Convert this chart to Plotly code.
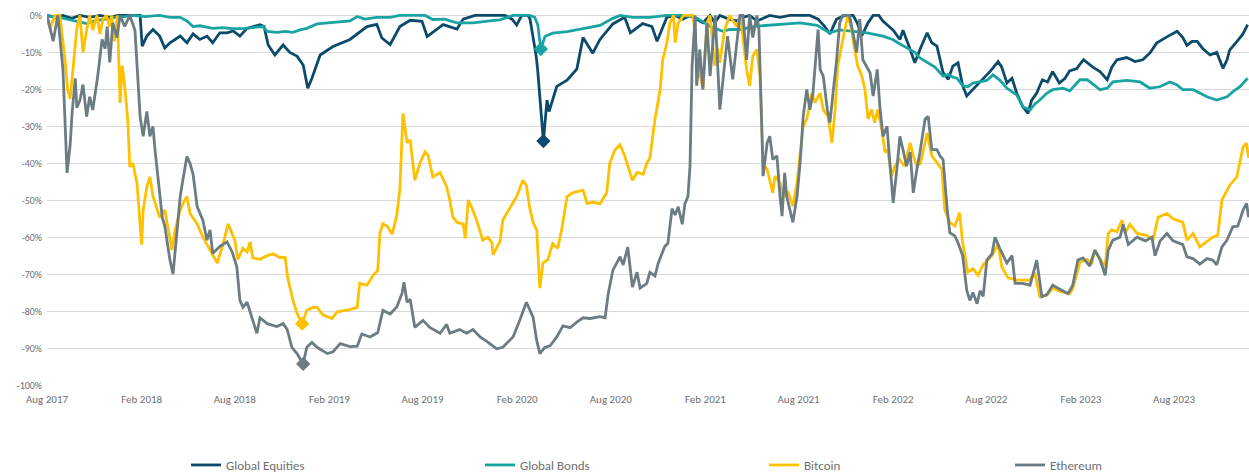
import plotly.graph_objects as go

# ---------------- data (drawdown from running peak, %) ----------------
EQUITIES = [
    ("2017-08-01", 0), ("2017-08-17", -0.5), ("2017-09-01", 0), ("2017-09-18", -0.8), ("2017-10-04", 0),
    ("2017-10-23", -0.5), ("2017-11-12", 0), ("2017-12-01", -0.5), ("2017-12-17", 0), ("2018-01-09", 0),
    ("2018-01-29", 0), ("2018-02-02", -8.3), ("2018-02-11", -5.6), ("2018-02-23", -3.8), ("2018-03-08", -5.6),
    ("2018-03-18", -8.8), ("2018-03-28", -7.4), ("2018-04-07", -6.5), ("2018-04-17", -5.6), ("2018-04-30", -7.4),
    ("2018-05-12", -5.0), ("2018-05-25", -6.5), ("2018-06-08", -5.6), ("2018-06-19", -7.4), ("2018-07-03", -4.7),
    ("2018-07-17", -4.7), ("2018-07-29", -4.2), ("2018-08-11", -5.6), ("2018-08-25", -3.5), ("2018-09-19", -2.5),
    ("2018-09-27", -3.0), ("2018-10-05", -8.0), ("2018-10-18", -10.7), ("2018-11-03", -8.0), ("2018-11-16", -10.0),
    ("2018-11-30", -11.0), ("2018-12-12", -13.4), ("2018-12-21", -19.7), ("2018-12-29", -17.0), ("2019-01-14", -10.7),
    ("2019-02-08", -8.4), ("2019-03-13", -6.5), ("2019-04-15", -3.0), ("2019-05-04", -2.4), ("2019-05-14", -6.1),
    ("2019-05-30", -7.9), ("2019-06-18", -3.0), ("2019-07-08", -1.3), ("2019-07-31", -1.6), ("2019-08-10", -5.7),
    ("2019-08-21", -4.6), ("2019-09-10", -2.5), ("2019-10-07", -3.7), ("2019-10-19", -1.0), ("2019-11-11", 0),
    ("2019-12-10", 0), ("2020-01-08", 0), ("2020-01-22", -1.0), ("2020-01-31", -2.6), ("2020-02-10", 0),
    ("2020-02-22", 0), ("2020-02-26", -1.0), ("2020-03-03", -6.0), ("2020-03-09", -11.0), ("2020-03-12", -15.0),
    ("2020-03-18", -25.0), ("2020-03-23", -34.0), ("2020-03-30", -22.9), ("2020-04-03", -26.0), ("2020-04-18", -19.2),
    ("2020-05-08", -17.5), ("2020-05-27", -14.5), ("2020-06-08", -6.0), ("2020-06-27", -10.2), ("2020-07-11", -6.5),
    ("2020-08-05", -2.3), ("2020-08-15", -1.5), ("2020-08-28", -0.5), ("2020-09-08", -4.7), ("2020-10-02", -2.2),
    ("2020-10-20", -3.0), ("2020-10-30", -7.0), ("2020-11-18", -0.5), ("2020-12-04", 0), ("2020-12-19", -1.0),
    ("2021-01-02", 0), ("2021-01-27", -2.0), ("2021-02-10", 0), ("2021-02-19", -2.0), ("2021-03-01", 0),
    ("2021-03-15", -0.8), ("2021-04-03", -1.5), ("2021-04-15", -0.5), ("2021-04-28", 0), ("2021-05-12", -1.5),
    ("2021-05-27", -0.5), ("2021-06-06", 0), ("2021-06-26", -0.5), ("2021-07-15", 0), ("2021-08-04", 0),
    ("2021-08-23", 0), ("2021-09-08", -1.0), ("2021-09-21", -3.0), ("2021-10-01", -5.0), ("2021-10-14", -1.0),
    ("2021-10-30", 0), ("2021-11-15", 0), ("2021-11-23", -2.0), ("2021-12-02", -5.5), ("2021-12-14", -2.0),
    ("2021-12-24", 0), ("2022-01-04", 0), ("2022-01-12", -1.5), ("2022-01-20", -2.5), ("2022-02-01", -4.0),
    ("2022-02-14", -6.5), ("2022-02-20", -4.0), ("2022-03-06", -9.2), ("2022-03-15", -12.8), ("2022-03-25", -9.2),
    ("2022-04-08", -4.7), ("2022-04-17", -7.4), ("2022-04-27", -8.3), ("2022-05-09", -15.5), ("2022-05-19", -17.3),
    ("2022-05-28", -13.7), ("2022-06-07", -12.8), ("2022-06-16", -19.0), ("2022-06-24", -21.8), ("2022-07-06", -20.0),
    ("2022-07-20", -18.0), ("2022-08-08", -15.2), ("2022-08-24", -12.5), ("2022-08-31", -14.0), ("2022-09-10", -18.3),
    ("2022-09-20", -17.0), ("2022-09-29", -21.0), ("2022-10-11", -24.7), ("2022-10-21", -26.5), ("2022-10-28", -23.0),
    ("2022-11-07", -21.0), ("2022-11-18", -17.4), ("2022-11-28", -18.0), ("2022-12-08", -15.2), ("2022-12-21", -18.3),
    ("2023-01-01", -17.0), ("2023-01-10", -15.0), ("2023-01-24", -14.4), ("2023-01-31", -13.0), ("2023-02-06", -12.0),
    ("2023-02-24", -14.0), ("2023-03-10", -15.2), ("2023-03-24", -17.4), ("2023-04-02", -14.0), ("2023-04-12", -12.0),
    ("2023-05-01", -11.4), ("2023-05-17", -12.5), ("2023-06-01", -12.0), ("2023-06-15", -10.2), ("2023-06-28", -7.5),
    ("2023-07-18", -5.8), ("2023-07-28", -5.0), ("2023-08-07", -4.3), ("2023-08-18", -6.0), ("2023-08-26", -8.1),
    ("2023-09-05", -7.0), ("2023-09-15", -7.0), ("2023-09-26", -9.0), ("2023-10-10", -10.7), ("2023-10-23", -10.0),
    ("2023-11-04", -14.3), ("2023-11-12", -12.0), ("2023-11-17", -9.4), ("2023-12-01", -7.1), ("2023-12-13", -5.0),
    ("2023-12-22", -2.5),
]

BONDS = [
    ("2017-08-01", 0), ("2017-08-17", -0.5), ("2017-09-01", -0.7), ("2017-09-15", -1.2), ("2017-09-28", -1.6),
    ("2017-10-17", -2.2), ("2017-11-02", -1.5), ("2017-11-22", -1.0), ("2017-12-11", -0.5), ("2017-12-30", -0.3),
    ("2018-01-15", 0), ("2018-02-07", -0.3), ("2018-03-08", 0), ("2018-03-28", -0.5), ("2018-04-17", -0.5),
    ("2018-04-30", -1.5), ("2018-05-12", -3.0), ("2018-05-25", -2.8), ("2018-06-19", -3.5), ("2018-07-09", -3.3),
    ("2018-07-29", -3.6), ("2018-08-21", -3.5), ("2018-09-05", -3.3), ("2018-09-25", -3.0), ("2018-10-03", -4.3),
    ("2018-10-22", -4.6), ("2018-11-07", -4.3), ("2018-11-22", -4.6), ("2018-12-06", -3.9), ("2018-12-19", -3.5),
    ("2019-01-08", -2.3), ("2019-02-08", -2.0), ("2019-03-13", -1.5), ("2019-03-27", -0.3), ("2019-04-11", -1.0),
    ("2019-05-04", -0.5), ("2019-05-30", -0.5), ("2019-06-18", 0), ("2019-07-17", 0), ("2019-08-06", 0),
    ("2019-08-21", -1.1), ("2019-09-13", -1.0), ("2019-10-07", -2.0), ("2019-11-07", -2.0), ("2019-12-10", -1.5),
    ("2019-12-29", -1.2), ("2020-01-24", 0), ("2020-02-26", 0), ("2020-03-06", -0.5), ("2020-03-12", -2.5),
    ("2020-03-18", -9.1), ("2020-03-26", -5.7), ("2020-04-10", -4.8), ("2020-05-08", -4.4), ("2020-06-08", -3.6),
    ("2020-07-11", -2.7), ("2020-08-05", -0.8), ("2020-08-19", 0), ("2020-09-13", -0.5), ("2020-10-16", -0.5),
    ("2020-11-18", 0), ("2020-12-19", 0), ("2021-01-12", -0.5), ("2021-01-21", -1.2), ("2021-02-10", -3.0),
    ("2021-03-07", -4.3), ("2021-03-20", -3.8), ("2021-04-09", -3.8), ("2021-05-12", -2.9), ("2021-06-20", -2.5),
    ("2021-08-04", -2.0), ("2021-09-06", -2.7), ("2021-09-30", -4.7), ("2021-10-20", -3.9), ("2021-11-15", -4.3),
    ("2021-12-12", -4.7), ("2022-01-12", -5.6), ("2022-01-31", -6.5), ("2022-02-10", -7.4), ("2022-03-06", -9.2),
    ("2022-03-15", -10.0), ("2022-03-25", -11.5), ("2022-04-08", -12.8), ("2022-04-23", -14.0), ("2022-05-09", -16.4),
    ("2022-05-18", -16.0), ("2022-05-28", -16.7), ("2022-06-05", -17.0), ("2022-06-16", -19.0), ("2022-06-26", -19.3),
    ("2022-07-06", -18.3), ("2022-07-20", -18.0), ("2022-08-02", -17.6), ("2022-08-14", -16.1), ("2022-08-27", -17.5),
    ("2022-09-10", -19.7), ("2022-09-29", -21.5), ("2022-10-11", -24.7), ("2022-10-25", -25.6), ("2022-11-03", -24.0),
    ("2022-11-13", -22.9), ("2022-11-27", -21.0), ("2022-12-08", -20.1), ("2022-12-28", -19.7), ("2023-01-10", -20.4),
    ("2023-01-30", -17.4), ("2023-02-13", -17.4), ("2023-02-24", -18.5), ("2023-03-10", -20.1), ("2023-03-24", -19.7),
    ("2023-04-04", -18.0), ("2023-05-01", -17.6), ("2023-05-27", -18.0), ("2023-06-15", -19.7), ("2023-07-04", -19.3),
    ("2023-07-24", -18.0), ("2023-08-07", -18.8), ("2023-08-18", -20.1), ("2023-09-07", -20.1), ("2023-09-20", -21.0),
    ("2023-10-04", -22.0), ("2023-10-23", -22.9), ("2023-11-12", -22.0), ("2023-11-23", -20.7), ("2023-12-07", -19.3),
    ("2023-12-22", -17.0),
]

BITCOIN = [
    ("2017-08-01", -1.0), ("2017-08-07", -3.5), ("2017-08-17", 0), ("2017-08-26", 0), ("2017-09-05", -12.0),
    ("2017-09-10", -20.0), ("2017-09-15", -22.6), ("2017-09-19", -16.0), ("2017-09-21", -12.7), ("2017-09-28", -3.5),
    ("2017-10-04", 0), ("2017-10-10", -10.0), ("2017-10-17", -4.0), ("2017-10-23", 0), ("2017-10-29", -4.0),
    ("2017-11-06", 0), ("2017-11-12", -5.0), ("2017-11-18", -1.0), ("2017-11-24", 0), ("2017-12-01", -3.0),
    ("2017-12-05", 0), ("2017-12-10", -7.0), ("2017-12-16", 0), ("2017-12-21", -23.7), ("2017-12-25", -13.6),
    ("2017-12-30", -19.0), ("2018-01-05", -28.3), ("2018-01-09", -41.0), ("2018-01-15", -40.0), ("2018-01-23", -45.5),
    ("2018-02-01", -62.0), ("2018-02-04", -52.7), ("2018-02-11", -46.4), ("2018-02-17", -43.7), ("2018-02-23", -49.0),
    ("2018-03-08", -54.6), ("2018-03-18", -52.7), ("2018-03-24", -57.0), ("2018-04-01", -63.5), ("2018-04-07", -58.0),
    ("2018-04-17", -52.7), ("2018-04-22", -51.0), ("2018-04-30", -49.0), ("2018-05-06", -53.6), ("2018-05-20", -56.4),
    ("2018-05-31", -60.0), ("2018-06-14", -63.5), ("2018-06-28", -67.0), ("2018-07-09", -62.0), ("2018-07-19", -56.4),
    ("2018-08-01", -60.8), ("2018-08-07", -66.0), ("2018-08-17", -63.0), ("2018-08-25", -64.0), ("2018-08-31", -61.3),
    ("2018-09-05", -65.6), ("2018-09-19", -66.0), ("2018-10-03", -65.0), ("2018-10-14", -64.5), ("2018-10-28", -65.5),
    ("2018-11-07", -65.5), ("2018-11-12", -71.0), ("2018-11-22", -77.0), ("2018-11-30", -80.6), ("2018-12-10", -83.4),
    ("2018-12-19", -79.8), ("2018-12-31", -79.0), ("2019-01-08", -79.0), ("2019-01-19", -81.0), ("2019-02-06", -82.0),
    ("2019-02-16", -80.2), ("2019-02-28", -80.0), ("2019-03-13", -79.6), ("2019-03-27", -79.0), ("2019-04-01", -72.5),
    ("2019-04-15", -73.0), ("2019-04-27", -70.3), ("2019-05-06", -69.0), ("2019-05-10", -59.0), ("2019-05-16", -56.4),
    ("2019-05-24", -57.0), ("2019-06-03", -59.2), ("2019-06-12", -54.0), ("2019-06-18", -47.0), ("2019-06-24", -26.5),
    ("2019-07-02", -34.5), ("2019-07-08", -33.6), ("2019-07-17", -44.6), ("2019-07-27", -40.0), ("2019-08-06", -36.9),
    ("2019-08-12", -38.0), ("2019-08-21", -43.7), ("2019-09-04", -42.5), ("2019-09-17", -46.4), ("2019-09-23", -50.0),
    ("2019-09-29", -54.6), ("2019-10-07", -56.0), ("2019-10-19", -56.4), ("2019-10-23", -60.3), ("2019-10-29", -50.0),
    ("2019-11-05", -52.0), ("2019-11-15", -55.8), ("2019-11-26", -60.8), ("2019-12-06", -60.0), ("2019-12-14", -61.5),
    ("2019-12-16", -64.8), ("2019-12-30", -61.0), ("2020-01-04", -55.4), ("2020-01-14", -53.0), ("2020-01-24", -51.0),
    ("2020-01-31", -49.0), ("2020-02-12", -44.6), ("2020-02-19", -46.0), ("2020-02-25", -51.8), ("2020-03-03", -56.0),
    ("2020-03-10", -58.0), ("2020-03-16", -73.8), ("2020-03-22", -67.0), ("2020-04-01", -66.0), ("2020-04-10", -61.7),
    ("2020-04-20", -63.0), ("2020-04-28", -57.5), ("2020-05-08", -49.0), ("2020-05-19", -48.0), ("2020-06-08", -47.3),
    ("2020-06-16", -50.9), ("2020-06-27", -50.5), ("2020-07-11", -51.0), ("2020-07-24", -48.0), ("2020-07-30", -40.0),
    ("2020-08-09", -36.4), ("2020-08-19", -35.0), ("2020-08-28", -38.0), ("2020-09-12", -44.6), ("2020-09-21", -42.5),
    ("2020-10-03", -43.0), ("2020-10-10", -40.0), ("2020-10-16", -38.6), ("2020-10-26", -28.0), ("2020-11-05", -20.0),
    ("2020-11-10", -12.0), ("2020-11-18", -7.4), ("2020-11-24", -2.0), ("2020-12-01", 0), ("2020-12-04", -7.4),
    ("2020-12-10", -2.0), ("2020-12-21", 0), ("2021-01-08", 0), ("2021-01-15", -10.0), ("2021-01-21", -15.6),
    ("2021-01-27", -20.0), ("2021-02-04", -2.0), ("2021-02-10", 0), ("2021-02-19", -13.6), ("2021-02-25", -9.0),
    ("2021-03-01", -12.8), ("2021-03-10", -4.0), ("2021-03-20", 0), ("2021-04-03", -3.0), ("2021-04-10", 0),
    ("2021-04-22", -14.6), ("2021-04-28", -19.0), ("2021-05-04", -11.0), ("2021-05-12", -9.2), ("2021-05-18", -16.4),
    ("2021-05-24", -40.0), ("2021-06-01", -41.7), ("2021-06-12", -48.0), ("2021-06-16", -43.5), ("2021-06-26", -45.3),
    ("2021-07-02", -49.0), ("2021-07-12", -48.0), ("2021-07-21", -51.6), ("2021-07-29", -45.3), ("2021-08-04", -38.0),
    ("2021-08-10", -30.0), ("2021-08-17", -28.0), ("2021-08-27", -21.0), ("2021-09-02", -23.6), ("2021-09-12", -21.0),
    ("2021-09-18", -25.5), ("2021-09-27", -27.3), ("2021-10-05", -34.5), ("2021-10-11", -25.5), ("2021-10-16", -13.7),
    ("2021-10-24", -7.4), ("2021-10-30", -3.8), ("2021-11-05", 0), ("2021-11-12", -3.8), ("2021-11-18", -9.2),
    ("2021-11-24", -13.7), ("2021-12-02", -16.4), ("2021-12-08", -20.0), ("2021-12-14", -28.0), ("2021-12-21", -25.5),
    ("2021-12-27", -29.0), ("2022-01-02", -25.5), ("2022-01-10", -30.9), ("2022-01-16", -37.0), ("2022-01-21", -36.3),
    ("2022-01-29", -43.5), ("2022-02-04", -40.8), ("2022-02-14", -39.0), ("2022-02-23", -40.8), ("2022-03-06", -34.5),
    ("2022-03-12", -38.0), ("2022-03-19", -40.8), ("2022-03-26", -40.0), ("2022-04-08", -31.8), ("2022-04-17", -38.0),
    ("2022-04-27", -40.0), ("2022-05-07", -41.7), ("2022-05-12", -52.5), ("2022-05-22", -56.0), ("2022-06-01", -57.0),
    ("2022-06-10", -53.4), ("2022-06-16", -61.5), ("2022-06-24", -68.0), ("2022-06-26", -69.5), ("2022-07-06", -68.5),
    ("2022-07-16", -70.3), ("2022-07-26", -67.5), ("2022-08-12", -65.0), ("2022-08-24", -61.8), ("2022-08-31", -68.0),
    ("2022-09-12", -71.0), ("2022-09-29", -71.6), ("2022-10-25", -71.6), ("2022-11-03", -69.5), ("2022-11-13", -76.1),
    ("2022-11-27", -75.7), ("2022-12-08", -73.8), ("2022-12-21", -74.6), ("2023-01-10", -75.3), ("2023-01-16", -74.0),
    ("2023-01-24", -69.8), ("2023-01-30", -66.8), ("2023-02-13", -66.0), ("2023-02-22", -67.3), ("2023-02-28", -63.5),
    ("2023-03-10", -66.0), ("2023-03-20", -67.8), ("2023-03-26", -59.0), ("2023-04-02", -58.0), ("2023-04-12", -58.5),
    ("2023-04-22", -55.4), ("2023-04-28", -59.0), ("2023-05-07", -56.5), ("2023-05-21", -59.0), ("2023-06-09", -59.5),
    ("2023-06-21", -60.8), ("2023-07-01", -54.6), ("2023-07-18", -53.6), ("2023-07-30", -55.0), ("2023-08-18", -56.0),
    ("2023-08-26", -60.8), ("2023-09-07", -59.0), ("2023-09-20", -62.6), ("2023-10-04", -61.0), ("2023-10-15", -60.0),
    ("2023-10-25", -59.5), ("2023-11-02", -50.0), ("2023-11-17", -46.0), ("2023-12-01", -43.7), ("2023-12-13", -35.6),
    ("2023-12-20", -34.6), ("2023-12-24", -38.6),
]

ETHEREUM = [
    ("2017-08-01", 0), ("2017-08-13", -7.0), ("2017-08-22", 0), ("2017-09-01", -14.6), ("2017-09-09", -42.6),
    ("2017-09-15", -35.0), ("2017-09-19", -26.0), ("2017-09-25", -17.0), ("2017-09-28", -25.0), ("2017-10-04", -23.0),
    ("2017-10-10", -18.7), ("2017-10-17", -27.4), ("2017-10-23", -22.0), ("2017-10-29", -25.6), ("2017-11-08", -16.0),
    ("2017-11-16", -6.5), ("2017-11-22", -9.0), ("2017-11-26", -3.0), ("2017-12-01", -12.7), ("2017-12-07", -2.0),
    ("2017-12-15", -6.0), ("2017-12-21", 0), ("2017-12-30", -3.0), ("2018-01-09", 0), ("2018-01-19", -4.0),
    ("2018-01-23", -12.7), ("2018-01-29", -27.4), ("2018-02-04", -32.7), ("2018-02-11", -26.0), ("2018-02-17", -32.7),
    ("2018-02-23", -30.0), ("2018-02-27", -36.4), ("2018-03-05", -43.7), ("2018-03-13", -54.6), ("2018-03-18", -57.0),
    ("2018-03-28", -66.2), ("2018-04-03", -70.0), ("2018-04-10", -60.0), ("2018-04-17", -49.0), ("2018-04-22", -44.6),
    ("2018-04-30", -38.2), ("2018-05-06", -40.0), ("2018-05-12", -43.0), ("2018-05-20", -51.8), ("2018-05-25", -53.6),
    ("2018-05-31", -55.4), ("2018-06-08", -60.8), ("2018-06-14", -58.0), ("2018-06-19", -64.4), ("2018-07-03", -62.5),
    ("2018-07-17", -61.3), ("2018-07-27", -64.0), ("2018-08-05", -68.0), ("2018-08-11", -77.1), ("2018-08-17", -79.0),
    ("2018-08-25", -77.6), ("2018-09-05", -82.5), ("2018-09-13", -86.0), ("2018-09-19", -81.8), ("2018-10-03", -83.4),
    ("2018-10-22", -84.2), ("2018-11-03", -83.4), ("2018-11-11", -85.0), ("2018-11-20", -89.8), ("2018-11-30", -91.5),
    ("2018-12-12", -94.3), ("2018-12-19", -89.8), ("2018-12-29", -88.5), ("2019-01-08", -89.8), ("2019-01-28", -91.5),
    ("2019-02-08", -91.0), ("2019-02-22", -88.8), ("2019-03-13", -89.6), ("2019-03-27", -89.5), ("2019-04-05", -86.2),
    ("2019-04-21", -87.0), ("2019-05-06", -85.8), ("2019-05-16", -79.8), ("2019-05-30", -80.8), ("2019-06-12", -78.9),
    ("2019-06-22", -75.3), ("2019-06-26", -72.2), ("2019-07-02", -77.6), ("2019-07-08", -76.8), ("2019-07-17", -84.4),
    ("2019-08-02", -82.5), ("2019-08-15", -84.4), ("2019-09-04", -86.0), ("2019-09-17", -83.6), ("2019-09-23", -86.0),
    ("2019-10-12", -85.0), ("2019-10-26", -86.0), ("2019-11-07", -85.0), ("2019-11-21", -87.0), ("2019-12-04", -88.2),
    ("2019-12-23", -90.2), ("2020-01-04", -89.8), ("2020-01-24", -87.0), ("2020-02-06", -82.5), ("2020-02-19", -77.6),
    ("2020-03-03", -81.7), ("2020-03-10", -88.0), ("2020-03-16", -91.5), ("2020-03-26", -89.8), ("2020-04-05", -89.4),
    ("2020-04-18", -87.0), ("2020-04-30", -84.0), ("2020-05-14", -84.5), ("2020-05-27", -83.0), ("2020-06-08", -81.8),
    ("2020-06-22", -82.0), ("2020-07-11", -81.5), ("2020-07-21", -81.8), ("2020-07-27", -75.3), ("2020-08-05", -69.0),
    ("2020-08-19", -65.3), ("2020-08-25", -67.5), ("2020-09-03", -62.7), ("2020-09-12", -73.5), ("2020-09-21", -69.5),
    ("2020-09-27", -73.8), ("2020-10-10", -72.5), ("2020-10-16", -69.5), ("2020-10-26", -70.5), ("2020-11-01", -67.1),
    ("2020-11-08", -64.4), ("2020-11-14", -62.5), ("2020-11-20", -61.7), ("2020-11-28", -52.3), ("2020-12-04", -54.0),
    ("2020-12-10", -51.8), ("2020-12-18", -56.5), ("2020-12-23", -51.0), ("2020-12-29", -49.0), ("2021-01-02", -40.8),
    ("2021-01-06", -13.7), ("2021-01-12", 0), ("2021-01-15", -19.0), ("2021-01-21", -9.2), ("2021-01-27", -20.0),
    ("2021-02-04", -2.0), ("2021-02-10", -16.4), ("2021-02-20", 0), ("2021-03-01", -25.5), ("2021-03-07", -18.0),
    ("2021-03-16", -5.6), ("2021-03-26", -17.3), ("2021-04-03", -7.4), ("2021-04-09", 0), ("2021-04-15", 0),
    ("2021-04-22", -12.0), ("2021-04-28", 0), ("2021-05-04", -6.0), ("2021-05-12", 0), ("2021-05-16", -3.8),
    ("2021-05-22", -32.7), ("2021-05-24", -43.5), ("2021-06-01", -34.5), ("2021-06-06", -32.7), ("2021-06-12", -39.0),
    ("2021-06-20", -38.0), ("2021-06-26", -49.0), ("2021-06-30", -54.3), ("2021-07-05", -42.6), ("2021-07-09", -49.0),
    ("2021-07-21", -56.0), ("2021-07-29", -49.0), ("2021-08-04", -40.0), ("2021-08-10", -27.3), ("2021-08-17", -20.0),
    ("2021-08-23", -25.5), ("2021-08-29", -21.0), ("2021-09-05", -10.0), ("2021-09-08", -3.8), ("2021-09-12", -14.6),
    ("2021-09-18", -16.4), ("2021-09-26", -25.5), ("2021-10-01", -29.0), ("2021-10-07", -21.0), ("2021-10-14", -12.0),
    ("2021-10-20", -2.0), ("2021-10-26", 0), ("2021-11-08", 0), ("2021-11-22", -10.0), ("2021-11-28", -1.0),
    ("2021-12-04", -12.0), ("2021-12-18", -15.5), ("2021-12-24", -21.8), ("2022-01-01", -14.6), ("2022-01-06", -24.5),
    ("2022-01-12", -32.7), ("2022-01-20", -30.0), ("2022-01-25", -39.0), ("2022-02-01", -50.7), ("2022-02-08", -41.7),
    ("2022-02-14", -32.7), ("2022-02-20", -36.3), ("2022-02-27", -40.8), ("2022-03-06", -37.0), ("2022-03-12", -48.0),
    ("2022-03-19", -41.7), ("2022-03-25", -37.0), ("2022-04-04", -28.0), ("2022-04-10", -27.3), ("2022-04-17", -36.3),
    ("2022-04-27", -36.3), ("2022-05-03", -38.0), ("2022-05-09", -39.0), ("2022-05-17", -52.5), ("2022-05-22", -58.8),
    ("2022-06-01", -59.7), ("2022-06-07", -61.5), ("2022-06-16", -65.0), ("2022-06-24", -74.4), ("2022-06-30", -77.1),
    ("2022-07-06", -75.0), ("2022-07-14", -78.0), ("2022-07-20", -74.5), ("2022-07-26", -76.0), ("2022-08-02", -66.2),
    ("2022-08-12", -64.5), ("2022-08-18", -60.0), ("2022-08-27", -63.0), ("2022-09-10", -67.0), ("2022-09-20", -65.0),
    ("2022-09-26", -72.5), ("2022-10-11", -72.5), ("2022-10-25", -73.0), ("2022-11-07", -66.2), ("2022-11-17", -76.1),
    ("2022-11-27", -75.5), ("2022-12-08", -73.0), ("2022-12-21", -74.0), ("2023-01-07", -75.3), ("2023-01-16", -73.0),
    ("2023-01-26", -66.2), ("2023-02-05", -65.6), ("2023-02-18", -67.8), ("2023-02-28", -63.5), ("2023-03-10", -66.0),
    ("2023-03-20", -70.3), ("2023-03-26", -63.5), ("2023-04-04", -60.8), ("2023-04-18", -60.0), ("2023-04-24", -56.5),
    ("2023-05-04", -62.0), ("2023-05-21", -60.0), ("2023-06-06", -61.0), ("2023-06-19", -60.0), ("2023-06-25", -65.0),
    ("2023-07-05", -61.0), ("2023-07-18", -59.0), ("2023-07-30", -61.0), ("2023-08-18", -62.0), ("2023-08-26", -65.3),
    ("2023-09-07", -65.8), ("2023-09-20", -67.3), ("2023-10-04", -65.8), ("2023-10-15", -66.2), ("2023-10-23", -67.5),
    ("2023-11-02", -62.6), ("2023-11-12", -60.8), ("2023-11-23", -57.2), ("2023-12-03", -57.0), ("2023-12-13", -52.7),
    ("2023-12-20", -50.9), ("2023-12-24", -54.6),
]

# maximum-drawdown markers (diamonds)
MARKER_DATES = {"Global Equities": "2020-03-23", "Global Bonds": "2020-03-18",
                "Bitcoin": "2018-12-10", "Ethereum": "2018-12-12"}
MARKER_VALUES = {"Global Equities": -34.0, "Global Bonds": -9.1,
                 "Bitcoin": -83.4, "Ethereum": -94.3}

SERIES_NAMES = ["Global Equities", "Global Bonds", "Bitcoin", "Ethereum"]
SERIES_DATA = [EQUITIES, BONDS, BITCOIN, ETHEREUM]
COLORS = ["#0B4A6B", "#1AA3A3", "#FFC000", "#6B7D83"]

TICK_DATES = ["2017-08-01", "2018-02-01", "2018-08-01", "2019-02-01", "2019-08-01", "2020-02-01",
              "2020-08-01", "2021-02-01", "2021-08-01", "2022-02-01", "2022-08-01", "2023-02-01",
              "2023-08-01"]
TICK_LABELS = ["Aug 2017", "Feb 2018", "Aug 2018", "Feb 2019", "Aug 2019", "Feb 2020", "Aug 2020",
               "Feb 2021", "Aug 2021", "Feb 2022", "Aug 2022", "Feb 2023", "Aug 2023"]
Y_TICKS = list(range(-100, 1, 10))
Y_LABELS = [f"{v}%" for v in Y_TICKS]

# ---------------- figure ----------------
W, H = 1249, 473
FONT = "Carlito, Calibri, 'Liberation Sans', Arial, sans-serif"
TEXT_COLOR = "#6f6f6f"

fig = go.Figure()
legend_ids = ["legend", "legend2", "legend3", "legend4"]
legend_text_x = [226, 520, 804, 1050]

for name, data, color, lg in zip(SERIES_NAMES, SERIES_DATA, COLORS, legend_ids):
    xs = [d for d, _ in data]
    ys = [v for _, v in data]
    fig.add_trace(go.Scatter(x=xs, y=ys, mode="lines", name=name,
                             line=dict(color=color, width=2.8), legend=lg,
                             hoverinfo="skip"))

for name, color in zip(SERIES_NAMES, COLORS):
    fig.add_trace(go.Scatter(x=[MARKER_DATES[name]], y=[MARKER_VALUES[name]], mode="markers",
                             marker=dict(symbol="diamond", size=11, color=color),
                             showlegend=False, hoverinfo="skip", cliponaxis=False))

legend_common = dict(orientation="h", xref="container", yref="container", xanchor="left",
                     yanchor="middle", y=1 - 465 / H, bgcolor="rgba(0,0,0,0)",
                     font=dict(family=FONT, size=13, color=TEXT_COLOR))
layout_legends = {}
for lg, tx in zip(legend_ids, legend_text_x):
    layout_legends[lg] = dict(legend_common, x=(tx - 40) / W)

fig.update_layout(
    width=W, height=H,
    margin=dict(l=47, r=0, t=11, b=88),
    paper_bgcolor="white", plot_bgcolor="white",
    font=dict(family=FONT, color=TEXT_COLOR),
    showlegend=True,
    **layout_legends,
)

fig.update_xaxes(
    type="date", range=["2017-08-01", "2023-12-24 16:00"],
    tickmode="array", tickvals=TICK_DATES, ticktext=TICK_LABELS,
    showgrid=False, zeroline=False, showline=False, ticks="",
    tickfont=dict(family=FONT, size=11, color=TEXT_COLOR),
    ticklabelstandoff=6,
)
fig.update_yaxes(
    range=[-100, 1.2], tickmode="array", tickvals=Y_TICKS, ticktext=Y_LABELS,
    showgrid=True, gridcolor="#D9D9D9", gridwidth=1.2, zeroline=False, showline=False, ticks="",
    tickfont=dict(family=FONT, size=10, color=TEXT_COLOR),
    ticklabelstandoff=4,
)

fig.write_html("out.html", config={"displayModeBar": False},
               post_script="document.body.style.margin='0';document.body.style.overflow='hidden';")
